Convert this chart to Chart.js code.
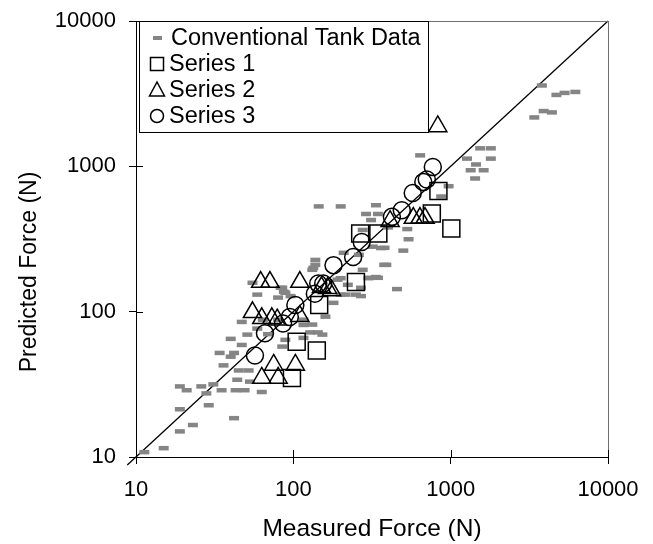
<!DOCTYPE html>
<html>
<head>
<meta charset="utf-8">
<script src="https://cdn.jsdelivr.net/npm/chart.js@4.4.0/dist/chart.umd.min.js"></script>
<style>
  html, body { margin: 0; padding: 0; background: #fff; }
  #wrap { width: 653px; height: 544px; }
</style>
</head>
<body>
<div id="wrap"><canvas id="chart" width="653" height="544"></canvas></div>
<script>
// axis ticks (log scale, both axes)
const axisTicks = [10, 100, 1000, 10000];

// reference line y = x
const lineX = [8.8, 10000];
const lineY = [8.8, 10000];

// Conventional Tank Data (grey dashes)
const tankX = [11.3, 15, 19, 23, 19, 29, 42, 19, 21, 26, 31, 28, 35, 43, 49, 44, 53, 36, 34, 42, 40, 47, 45, 52, 63,
  47, 40, 51, 59, 55, 59, 85, 80, 96, 138, 132, 85, 116, 153, 80, 64,
  3800, 4700, 5300, 6200, 3900, 4400, 3400,
  1540, 1800, 1270, 1800, 1450, 1340, 1620, 1430,
  640, 970, 870, 530, 540, 500,
  145, 200, 335, 290, 345, 312, 400, 276, 380, 320, 390, 456, 276, 335, 300, 200, 134, 215, 269, 180, 87, 69, 143, 116,
  138, 209, 261, 361, 378, 83, 89, 191, 222, 200, 250, 302, 345, 269, 116, 132, 160, 89, 128];
const tankY = [10.8, 11.5, 15, 16.6, 21.3, 22.7, 18.5, 30.6, 28.8, 30.6, 31.6, 27.4, 28.8, 28.8, 28.8, 34, 33, 42.7, 52, 52, 49, 59, 39.4, 39.4, 28,
  85, 65, 69.5, 76.5, 158, 131, 146, 125, 128, 227, 194, 57.5, 66, 69.5, 88, 88,
  3600, 3100, 3200, 3250, 2400, 2350, 2170,
  1330, 1330, 1130, 1130, 1030, 940, 940, 825,
  1190, 730, 620, 370, 315, 263,
  530, 530, 540, 470, 470, 427, 380, 365, 275, 280, 210, 143, 194, 173, 170, 170, 200, 131, 128, 115, 137, 70, 72, 81,
  210, 254, 246, 274, 210, 146, 135, 166, 153, 131, 131, 171, 171, 146, 88, 81.5, 92.4, 64, 72];

// Series 1 (squares)
const s1X = [105, 141, 98, 146, 250, 266, 347, 759, 1010, 836];
const s1Y = [62, 54, 35, 111, 160, 345, 345, 473, 373, 677];

// Series 2 (triangles)
const s2X = [62, 71, 110, 55, 63, 73, 79, 110, 151, 165, 175, 75, 103, 63, 80, 412, 579, 638, 687, 828];
const s2Y = [160, 160, 160, 99, 90, 90, 88, 93, 147, 145, 140, 43, 43, 35, 35, 419, 441, 441, 441, 1883];

// Series 3 (circles)
const s3X = [57, 66, 86, 95, 103, 137, 144, 155, 180, 240, 272, 423, 489, 574, 670, 705, 770];
const s3Y = [50, 71, 83, 92, 111, 133, 156, 156, 209, 238, 302, 449, 499, 655, 780, 811, 989];

const legendLabels = ["Conventional Tank Data", "Series 1", "Series 2", "Series 3"];
const FONT = "'Liberation Sans', Arial, sans-serif";

const pts = (xs, ys) => xs.map((x, i) => ({ x: x, y: ys[i] }));

const frame = {
    id: "frame",
    afterDraw(chart) {
        const ctx = chart.ctx;
        const { left, right, top, bottom } = chart.chartArea;
        const sx = chart.scales.x, sy = chart.scales.y;
        ctx.save();

        // plot area border (top and right)
        ctx.strokeStyle = "#707070";
        ctx.lineWidth = 1;
        ctx.beginPath();
        ctx.moveTo(left, top + 0.5); ctx.lineTo(right, top + 0.5);
        ctx.moveTo(right + 0.5, top); ctx.lineTo(right + 0.5, bottom);
        ctx.stroke();

        // tick marks crossing into the plot
        ctx.strokeStyle = "#000";
        ctx.beginPath();
        axisTicks.forEach(v => {
            const px = Math.round(sx.getPixelForValue(v)) + 0.5;
            ctx.moveTo(px, bottom); ctx.lineTo(px, bottom - 7);
            const py = Math.round(sy.getPixelForValue(v)) + 0.5;
            ctx.moveTo(left, py); ctx.lineTo(left + 7, py);
        });
        ctx.stroke();

        // legend box
        const bx = 139.5, by = top + 0.5, bw = 289, bh = 111;
        ctx.fillStyle = "#fff";
        ctx.fillRect(bx, by, bw, bh);
        ctx.strokeStyle = "#000";
        ctx.strokeRect(bx, by, bw, bh);

        const rowY = [38, 64, 90, 116].map(v => v + top - 21);
        const mx = 157;
        // dash
        ctx.fillStyle = "#858585";
        ctx.fillRect(mx - 4, rowY[0] - 2, 9, 4);
        ctx.strokeStyle = "#000";
        ctx.lineWidth = 1.5;
        // square
        ctx.strokeRect(mx - 6.5, rowY[1] - 6.5, 13, 13);
        // triangle
        ctx.beginPath();
        ctx.moveTo(mx, rowY[2] - 8);
        ctx.lineTo(mx + 7.5, rowY[2] + 6);
        ctx.lineTo(mx - 7.5, rowY[2] + 6);
        ctx.closePath();
        ctx.stroke();
        // circle
        ctx.beginPath();
        ctx.arc(mx, rowY[3], 6.5, 0, Math.PI * 2);
        ctx.stroke();

        ctx.fillStyle = "#000";
        ctx.font = "23.5px " + FONT;
        ctx.textBaseline = "middle";
        ctx.textAlign = "left";
        legendLabels.forEach((t, i) => ctx.fillText(t, i === 0 ? 171 : 169, rowY[i] + 1));

        // y axis title, centred on the whole chart height like the original
        ctx.font = "23px " + FONT;
        ctx.translate(30, 272);
        ctx.rotate(-Math.PI / 2);
        ctx.textAlign = "center";
        ctx.fillText("Predicted Force (N)", 0, 0);
        ctx.restore();
    }
};

const axisBase = {
    type: "logarithmic",
    min: 10,
    max: 10000,
    afterBuildTicks: s => { s.ticks = axisTicks.map(v => ({ value: v })); },
    ticks: {
        callback: v => String(v),
        color: "#000",
        font: { family: FONT, size: 22 },
        autoSkip: false,
        maxRotation: 0
    },
    grid: { drawOnChartArea: false, color: "#000", tickLength: 7 },
    border: { color: "#000", width: 1 }
};

new Chart(document.getElementById("chart").getContext("2d"), {
    type: "scatter",
    data: {
        datasets: [
            { label: "Series 3", data: pts(s3X, s3Y), pointStyle: "circle", pointRadius: 8.5, borderColor: "#000", backgroundColor: "rgba(0,0,0,0)", borderWidth: 1.5, order: 1 },
            { label: "Series 2", data: pts(s2X, s2Y), pointStyle: "triangle", pointRadius: 10.5, borderColor: "#000", backgroundColor: "rgba(0,0,0,0)", borderWidth: 1.5, order: 2 },
            { label: "Series 1", data: pts(s1X, s1Y), pointStyle: "rect", pointRadius: 12, borderColor: "#000", backgroundColor: "rgba(0,0,0,0)", borderWidth: 1.5, order: 3 },
            { label: "Conventional Tank Data", data: pts(tankX, tankY), pointStyle: "line", pointRadius: 5, borderColor: "#858585", borderWidth: 4.5, order: 4 },
            { type: "line", label: "y = x", data: pts(lineX, lineY), borderColor: "#000", borderWidth: 1.3, pointRadius: 0, clip: false, order: 5 }
        ]
    },
    options: {
        responsive: false,
        animation: false,
        events: [],
        layout: { padding: { top: 21, right: 45, left: 0, bottom: 0 } },
        plugins: { legend: { display: false }, tooltip: { enabled: false } },
        scales: {
            x: {
                ...axisBase,
                position: "bottom",
                ticks: { ...axisBase.ticks, padding: 13 },
                title: { display: true, text: "Measured Force (N)", color: "#000", font: { family: FONT, size: 24.5 }, padding: { top: 0, bottom: 0 } },
                afterFit: s => { s.height = 87; s.paddingLeft = 0; s.paddingRight = 0; }
            },
            y: {
                ...axisBase,
                position: "left",
                ticks: { ...axisBase.ticks, padding: 13 },
                afterFit: s => { s.width = 136; s.paddingTop = 0; s.paddingBottom = 0; }
            }
        }
    },
    plugins: [frame]
});
</script>
</body>
</html>
